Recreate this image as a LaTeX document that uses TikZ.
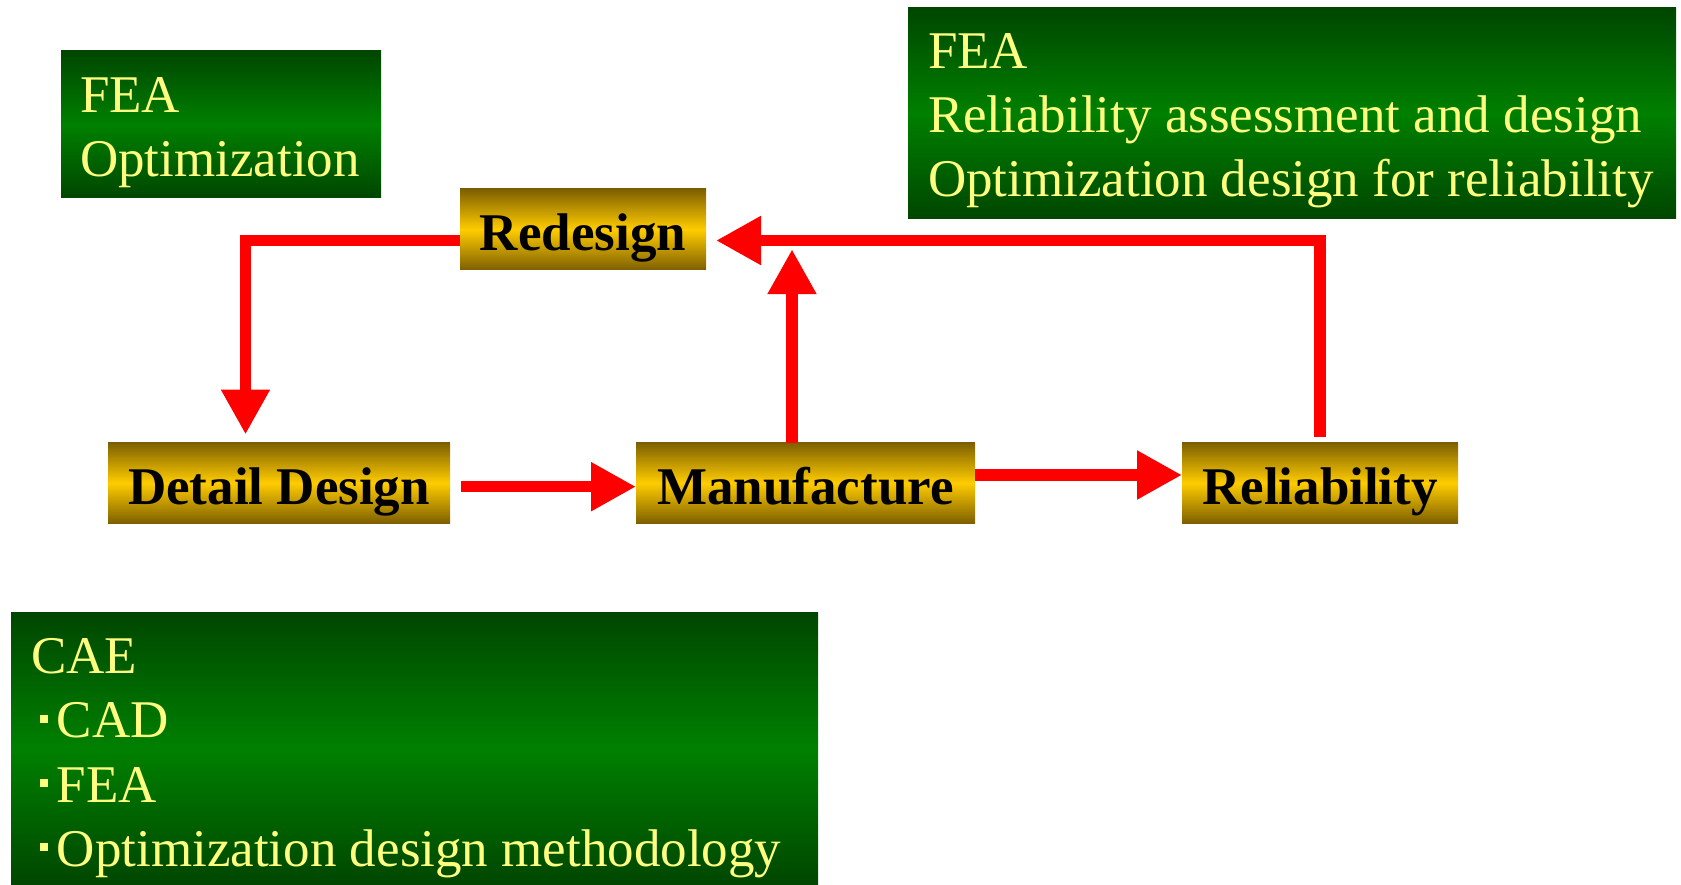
\documentclass[tikz,border=0pt]{standalone}
\usepackage{fontspec}
\setmainfont{Liberation Serif}
\usetikzlibrary{arrows.meta}
\definecolor{gdark}{RGB}{0,70,0}
\definecolor{gmid}{RGB}{0,128,0}
\definecolor{odark}{RGB}{125,95,0}
\definecolor{omid}{RGB}{255,204,0}
\definecolor{ltyellow}{RGB}{255,255,128}
\definecolor{arrowred}{RGB}{255,0,0}
\tikzset{
 greenbox/.style={rectangle, inner sep=0pt, outer sep=0pt, top color=gdark, bottom color=gdark, middle color=gmid, anchor=north west},
 goldbox/.style={rectangle, inner sep=0pt, outer sep=0pt, top color=odark, bottom color=odark, middle color=omid, minimum height=81pt, text height=48pt, text depth=6pt, font=\fontsize{53}{64}\selectfont\bfseries},
 gtext/.style={anchor=base west, inner sep=0pt, outer sep=0pt, text=ltyellow, font=\fontsize{53}{64}\selectfont},
 flow/.style={draw=arrowred, line width=11.5pt, -{Triangle[length=45pt,width=46pt]}},
}
\newcommand{\sqbullet}{\textcolor{ltyellow}{\rule[15pt]{8pt}{8pt}}\hspace{9pt}}
\begin{document}
\begin{tikzpicture}[x=1pt,y=-1pt]
\useasboundingbox (0,0) rectangle (1681,885);
% green info boxes
\node[greenbox, minimum width=320pt, minimum height=147pt] (boxA) at (61,51) {};
\node[gtext] (a1) at (80,112.6) {FEA};
\node[gtext] (a2) at (80,177) {Optimization};

\node[greenbox, minimum width=768pt, minimum height=211.5pt] (boxB) at (908,7.5) {};
\node[gtext] (b1) at (928,68.6) {FEA};
\node[gtext] (b2) at (928,133) {Reliability assessment and design};
\node[gtext] (b3) at (928,197) {Optimization design for reliability};

\node[greenbox, minimum width=807pt, minimum height=273pt] (boxC) at (11,612) {};
\node[gtext] (c1) at (31,673) {CAE};
\node[gtext] (c2) at (40,737.6) {\sqbullet CAD};
\node[gtext] (c3) at (40,802) {\sqbullet FEA};
\node[gtext] (c4) at (40,866) {\sqbullet Optimization design methodology};

% process boxes
\node[goldbox, minimum width=246pt] (redesign) at (583,229.5) {Redesign};
\node[goldbox, minimum width=342pt] (detail) at (279,483) {Detail Design};
\node[goldbox, minimum width=339pt] (manufacture) at (805.5,483) {Manufacture};
\node[goldbox, minimum width=276pt] (reliability) at (1320,483) {Reliability};

% connectors
\draw[flow] ([yshift=-11pt]redesign.west) -| ([xshift=-33.5pt,yshift=8pt]detail.north);
\draw[flow] ([xshift=11pt,yshift=-3.7pt]detail.east) -- ([yshift=-3.7pt]manufacture.west);
\draw[flow] ([yshift=8pt]manufacture.east) -- ([yshift=8pt]reliability.west);
\draw[flow] ([xshift=-13.5pt]manufacture.north) -- ([xshift=-13.5pt,yshift=193.3pt]manufacture.north);
\draw[flow] ([yshift=6pt]reliability.north) |- ([xshift=10pt,yshift=-11pt]redesign.east);
\end{tikzpicture}
\end{document}
